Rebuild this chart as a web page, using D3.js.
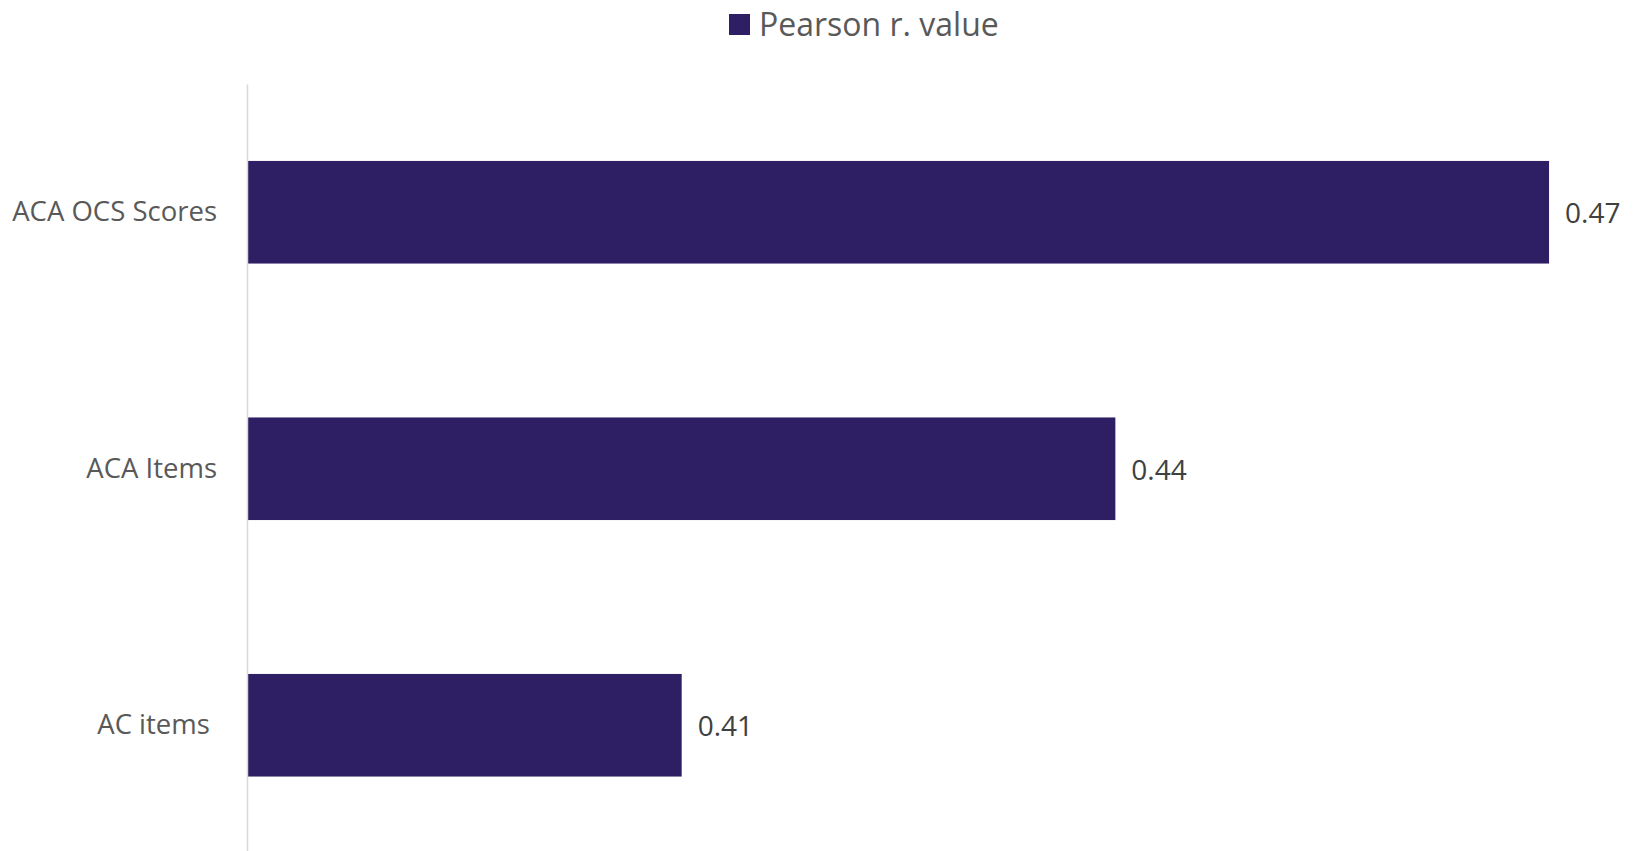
<!DOCTYPE html>
<html>
<head>
<meta charset="utf-8">
<script src="https://cdn.jsdelivr.net/npm/d3@7"></script>
<style>
  body { margin: 0; background: #fff; }
  svg { display: block; font-family: "Open Sans", sans-serif; }
  text { white-space: pre; }
</style>
</head>
<body>
<svg id="chart" width="1633" height="851"></svg>
<script>
// chart data
const categories = ['ACA OCS Scores', 'ACA Items', 'AC items '];
const values = [0.47, 0.44, 0.41];
const seriesName = 'Pearson r. value';

const barColor = '#2e1f65';

const svg = d3.select('#chart');

// x scale does not start at zero
const x = d3.scaleLinear()
	.domain([0.38, 0.48])
	.range([248, 248 + 1445.6]);

const y = d3.scaleBand()
	.domain(categories)
	.range([84, 853.5])
	.paddingInner(0.6)
	.paddingOuter(0.3);

// bars
svg.selectAll('rect.bar')
	.data(values)
	.enter()
	.append('rect')
	.attr('class', 'bar')
	.attr('x', x(0.38))
	.attr('y', function(d, i) { return y(categories[i]); })
	.attr('width', function(d) { return x(d) - x(0.38); })
	.attr('height', y.bandwidth())
	.attr('fill', barColor);

// vertical axis line with category labels
const yAxis = svg.append('g')
	.attr('transform', 'translate(247,0)')
	.call(d3.axisLeft(y).tickSize(0).tickPadding(30));
yAxis.select('.domain')
	.attr('stroke', '#d9d9d9')
	.attr('stroke-width', 1.5);
yAxis.selectAll('text')
	.attr('fill', '#595959')
	.style('font-size', '27.5px')
	.style('font-family', '"Open Sans", sans-serif');

// value labels
const fmt = d3.format('.2f');
svg.selectAll('text.val')
	.data(values)
	.enter()
	.append('text')
	.attr('class', 'val')
	.attr('x', function(d) { return x(d) + 16; })
	.attr('y', function(d, i) { return y(categories[i]) + y.bandwidth() / 2 + 1; })
	.attr('dy', '0.35em')
	.attr('fill', '#404040')
	.style('font-size', '28px')
	.text(function(d) { return fmt(d); });

// legend
const legend = svg.append('g');
legend.append('rect')
	.attr('x', 729)
	.attr('y', 14)
	.attr('width', 21)
	.attr('height', 21)
	.attr('fill', barColor);
legend.append('text')
	.attr('x', 759)
	.attr('y', 24.5)
	.attr('dy', '0.35em')
	.attr('fill', '#595959')
	.style('font-size', '32px')
	.text(seriesName);
</script>
</body>
</html>
